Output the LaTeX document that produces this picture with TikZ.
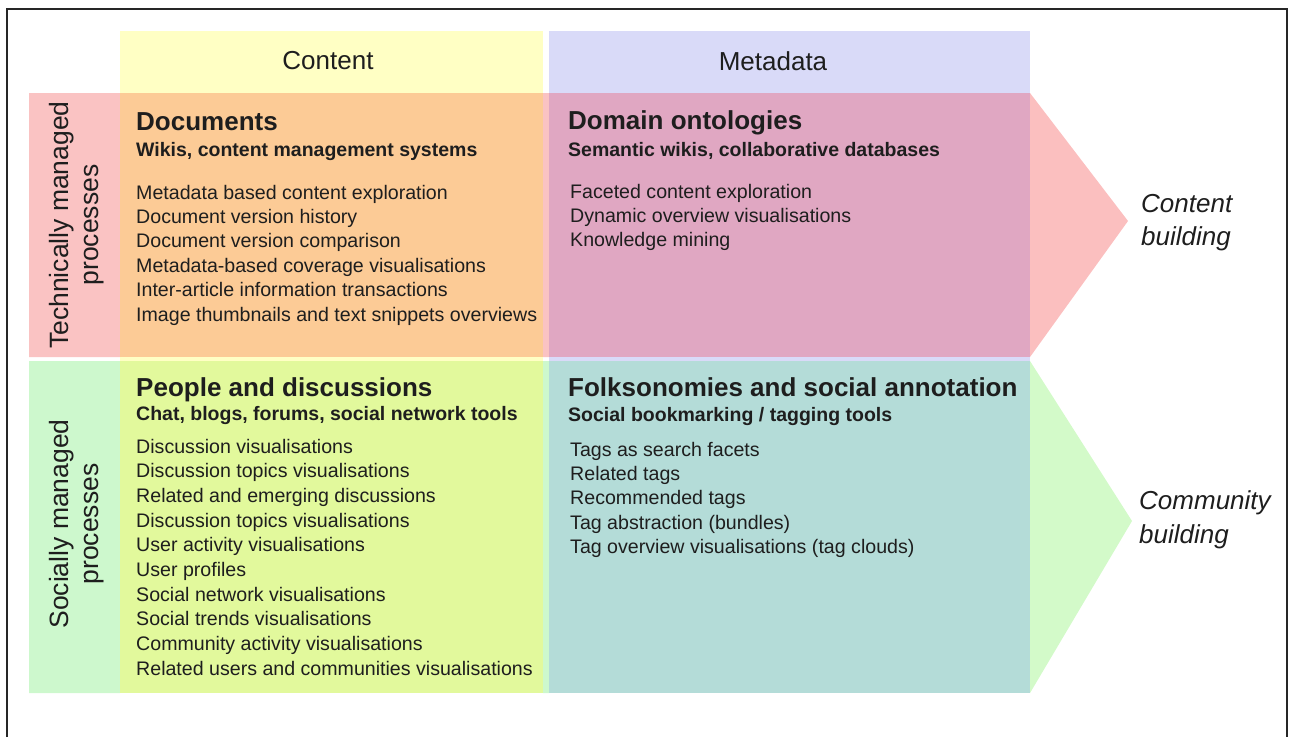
\documentclass[tikz,border=0pt]{standalone}
\usepackage{fontspec}
\setmainfont{Liberation Sans}
\usepackage{xcolor}
\usetikzlibrary{positioning}

\definecolor{txtdark}{HTML}{1E1E1E}
\definecolor{contentcol}{HTML}{FFFFC4}
\definecolor{metacol}{HTML}{D9DAF8}
\definecolor{techrow}{HTML}{FAC3C3}
\definecolor{techcontent}{HTML}{FCCB96}
\definecolor{techmeta}{HTML}{E0A7C2}
\definecolor{techarrow}{HTML}{FBBFBF}
\definecolor{socrow}{HTML}{CDF8CD}
\definecolor{soccontent}{HTML}{E2F99C}
\definecolor{socmeta}{HTML}{B4DCD8}
\definecolor{socarrow}{HTML}{D3FAC9}

\begin{document}
\begin{tikzpicture}[x=1pt, y=-1pt,
    every node/.style={inner sep=0pt, text=txtdark},
    colhead/.style={anchor=base, font=\fontsize{26}{31}\selectfont},
    cellhead/.style={anchor=base west, font=\fontsize{26}{31}\selectfont\bfseries},
    cellsub/.style={anchor=base west, font=\fontsize{19.5}{24}\selectfont\bfseries},
    cellitem/.style={anchor=base west, font=\fontsize{19.6}{24}\selectfont},
    rowlabel/.style={rotate=90, align=center, font=\fontsize{26.5}{30}\selectfont},
    outcome/.style={anchor=base west, font=\fontsize{26}{31}\selectfont\itshape}]
\useasboundingbox (0,0) rectangle (1295,737);

% frame
\draw[line width=2.5pt, black!85] (7,737) -- (7,9) -- (1287,9) -- (1287,737);

% columns
\fill[contentcol] (120,31) rectangle (543,693);
\fill[metacol] (549,31) rectangle (1030,693);

% technically managed row
\fill[techrow] (29,93) rectangle (120,357)
               (543,93) rectangle (549,357);
\fill[techcontent] (120,93) rectangle (543,357);
\fill[techmeta] (549,93) rectangle (1030,357);
\fill[techarrow] (1030,93) -- (1128,221) -- (1030,357) -- cycle;

% socially managed row
\fill[socrow] (29,361) rectangle (120,693)
              (543,361) rectangle (549,693);
\fill[soccontent] (120,361) rectangle (543,693);
\fill[socmeta] (549,361) rectangle (1030,693);
\fill[socarrow] (1030,361) -- (1132,521) -- (1030,693) -- cycle;

% headers
\node[colhead] (content) at (328,69) {Content};
\node[colhead] (metadata) at (773,70) {Metadata};

\node[rowlabel] (technical) at (77,225) {Technically managed\\processes};
\node[rowlabel] (social) at (77,524) {Socially managed\\processes};

\node[outcome] (contentb1) at (1141,212) {Content};
\node[outcome] (contentb2) at (1141,245) {building};
\node[outcome] (communityb1) at (1139,509) {Community};
\node[outcome] (communityb2) at (1139,543) {building};

% documents
\node[cellhead] (documents) at (136,130) {Documents};
\node[cellsub] (wikis) at (136,156) {Wikis, content management systems};
\foreach \txt [count=\i] in {{Metadata based content exploration},
    {Document version history}, {Document version comparison},
    {Metadata-based coverage visualisations},
    {Inter-article information transactions},
    {Image thumbnails and text snippets overviews}}
  \node[cellitem] (doc-\i) at (136,{199+24.4*(\i-1)}) {\txt};

% domain ontologies
\node[cellhead] (ontologies) at (568,129) {Domain ontologies};
\node[cellsub] (semantic) at (568,156) {Semantic wikis, collaborative databases};
\foreach \txt [count=\i] in {{Faceted content exploration},
    {Dynamic overview visualisations}, {Knowledge mining}}
  \node[cellitem] (onto-\i) at (570,{198+24.3*(\i-1)}) {\txt};

% people and discussions
\node[cellhead] (people) at (136,396) {People and discussions};
\node[cellsub] (chat) at (136,420) {Chat, blogs, forums, social network tools};
\foreach \txt [count=\i] in {{Discussion visualisations},
    {Discussion topics visualisations}, {Related and emerging discussions},
    {Discussion topics visualisations}, {User activity visualisations},
    {User profiles}, {Social network visualisations},
    {Social trends visualisations}, {Community activity visualisations},
    {Related users and communities visualisations}}
  \node[cellitem] (people-\i) at (136,{453+24.7*(\i-1)}) {\txt};

% folksonomies
\node[cellhead] (folks) at (568,396) {Folksonomies and social annotation};
\node[cellsub] (bookmark) at (568,421) {Social bookmarking / tagging tools};
\foreach \txt [count=\i] in {{Tags as search facets}, {Related tags},
    {Recommended tags}, {Tag abstraction (bundles)},
    {Tag overview visualisations (tag clouds)}}
  \node[cellitem] (tags-\i) at (570,{456+24.4*(\i-1)}) {\txt};
\end{tikzpicture}
\end{document}
